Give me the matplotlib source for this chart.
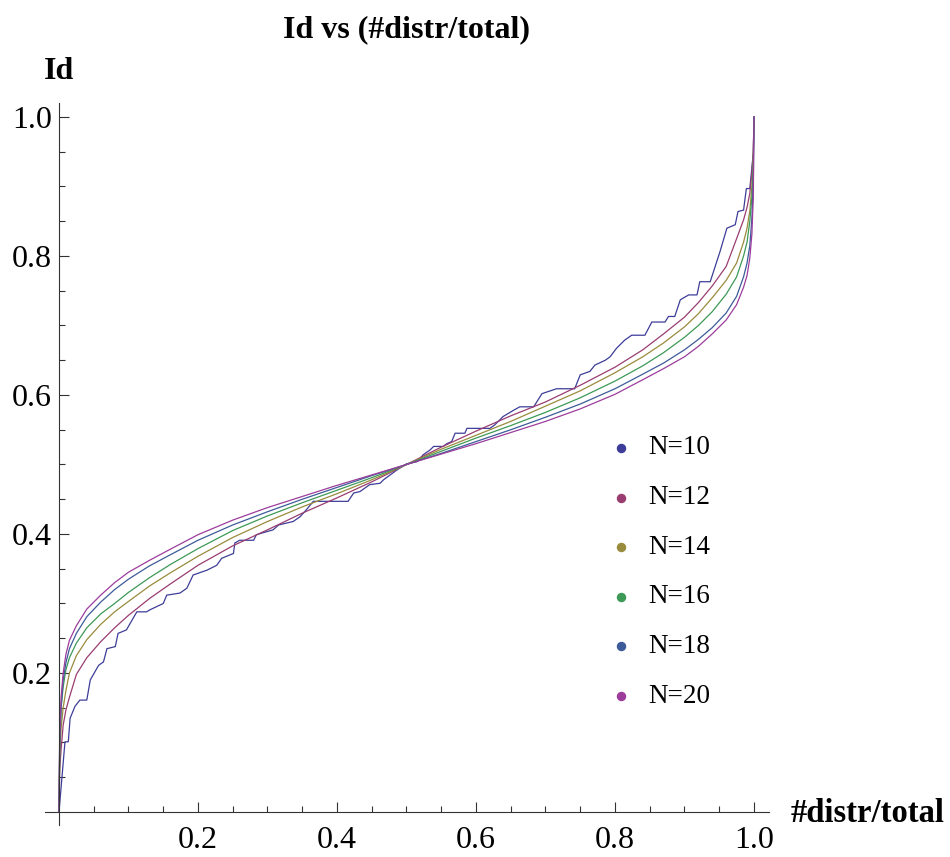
import matplotlib
matplotlib.use("Agg")
import matplotlib.pyplot as plt
from matplotlib.ticker import FixedLocator

# ---------------- data ----------------
labels = ["N=10", "N=12", "N=14", "N=16", "N=18", "N=20"]
colors = ["#3d3d99", "#993d71", "#998b3d", "#3d9956", "#3d5b99", "#9c3d9c"]

# N=10 : staircase corners
x10 = [0, 0.0086, 0.0134, 0.016, 0.023, 0.030, 0.040, 0.045, 0.057, 0.064,
       0.069, 0.081, 0.085, 0.097, 0.112, 0.126, 0.131, 0.150, 0.155, 0.174,
       0.184, 0.193, 0.213, 0.227, 0.234, 0.251, 0.253, 0.260, 0.280, 0.284,
       0.308, 0.316, 0.337, 0.347, 0.356, 0.366, 0.416, 0.424, 0.433, 0.447,
       0.462, 0.467, 0.486, 0.500, 0.515, 0.524, 0.534, 0.539, 0.553, 0.558,
       0.565, 0.570, 0.584, 0.587, 0.620, 0.627, 0.639, 0.654, 0.663, 0.683,
       0.695, 0.716, 0.742, 0.750, 0.764, 0.771, 0.786, 0.793, 0.802, 0.814,
       0.824, 0.843, 0.853, 0.872, 0.877, 0.886, 0.894, 0.906, 0.918, 0.922,
       0.937, 0.951, 0.961, 0.973, 0.977, 0.985, 0.989, 0.994, 0.999, 1.0]
y10 = [0, 0.101, 0.101, 0.135, 0.152, 0.161, 0.161, 0.190, 0.211, 0.216,
       0.235, 0.238, 0.257, 0.262, 0.288, 0.288, 0.291, 0.300, 0.312, 0.315,
       0.322, 0.341, 0.348, 0.355, 0.365, 0.372, 0.387, 0.391, 0.391, 0.399,
       0.406, 0.413, 0.418, 0.425, 0.435, 0.447, 0.447, 0.459, 0.461, 0.471,
       0.473, 0.478, 0.492, 0.501, 0.504, 0.514, 0.521, 0.526, 0.526, 0.530,
       0.533, 0.545, 0.545, 0.552, 0.552, 0.557, 0.569, 0.578, 0.583, 0.583,
       0.602, 0.609, 0.609, 0.629, 0.634, 0.643, 0.650, 0.655, 0.667, 0.679,
       0.686, 0.686, 0.705, 0.705, 0.713, 0.713, 0.737, 0.744, 0.744, 0.763,
       0.763, 0.806, 0.840, 0.845, 0.864, 0.866, 0.897, 0.897, 0.948, 1.0]

# common sample positions for the smoother curves
xs = [0, 0.001, 0.003, 0.006, 0.01, 0.015, 0.025, 0.04, 0.06, 0.08, 0.1,
      0.13, 0.16, 0.2, 0.25, 0.3, 0.35, 0.4, 0.45, 0.5, 0.55, 0.6, 0.65,
      0.7, 0.75, 0.8, 0.84, 0.87, 0.9, 0.92, 0.94, 0.96, 0.975, 0.985,
      0.99, 0.994, 0.997, 0.999, 1.0]

y12 = [0, 0.06, 0.09, 0.125, 0.147, 0.165, 0.198, 0.222, 0.245, 0.265, 0.283,
       0.307, 0.328, 0.355, 0.383, 0.406, 0.430, 0.452, 0.475, 0.5, 0.525,
       0.548, 0.570, 0.590, 0.614, 0.640, 0.665, 0.688, 0.712, 0.733, 0.757,
       0.785, 0.825, 0.852, 0.870, 0.890, 0.920, 0.950, 1.0]
y14 = [0, 0.08, 0.12, 0.15, 0.175, 0.20, 0.225, 0.248, 0.270, 0.288, 0.303,
       0.325, 0.344, 0.368, 0.395, 0.418, 0.439, 0.458, 0.478, 0.5, 0.522,
       0.542, 0.562, 0.584, 0.606, 0.632, 0.655, 0.675, 0.698, 0.717, 0.740,
       0.765, 0.790, 0.820, 0.840, 0.865, 0.900, 0.940, 1.0]
y16 = [0, 0.09, 0.15, 0.18, 0.205, 0.222, 0.243, 0.265, 0.285, 0.300, 0.316,
       0.337, 0.356, 0.379, 0.405, 0.426, 0.445, 0.463, 0.481, 0.5, 0.519,
       0.538, 0.556, 0.575, 0.596, 0.620, 0.642, 0.661, 0.683, 0.700, 0.720,
       0.745, 0.770, 0.800, 0.820, 0.850, 0.885, 0.930, 1.0]
y18 = [0, 0.10, 0.15, 0.19, 0.215, 0.235, 0.257, 0.281, 0.302, 0.320, 0.335,
       0.354, 0.370, 0.391, 0.413, 0.432, 0.450, 0.467, 0.484, 0.5, 0.516,
       0.533, 0.550, 0.568, 0.587, 0.609, 0.630, 0.646, 0.665, 0.680, 0.697,
       0.718, 0.742, 0.770, 0.790, 0.815, 0.855, 0.905, 1.0]
y20 = [0, 0.11, 0.165, 0.20, 0.227, 0.247, 0.268, 0.292, 0.312, 0.330, 0.345,
       0.362, 0.378, 0.399, 0.420, 0.438, 0.454, 0.470, 0.485, 0.5, 0.515,
       0.530, 0.546, 0.562, 0.580, 0.601, 0.622, 0.638, 0.655, 0.670, 0.688,
       0.708, 0.730, 0.755, 0.772, 0.797, 0.832, 0.885, 1.0]

series_x = [x10, xs, xs, xs, xs, xs]
series_y = [y10, y12, y14, y16, y18, y20]

major_ticks = [0.2, 0.4, 0.6, 0.8, 1.0]
minor_ticks = [0.05, 0.1, 0.15, 0.25, 0.3, 0.35, 0.45, 0.5, 0.55,
               0.65, 0.7, 0.75, 0.85, 0.9, 0.95]
tick_labels = ["0.2", "0.4", "0.6", "0.8", "1.0"]

# ---------------- figure ----------------
SERIF = ["Liberation Serif", "DejaVu Serif"]
plt.rcParams["font.family"] = SERIF

fig = plt.figure(figsize=(9.5, 8.57), dpi=100)
ax = fig.add_axes([0.04747, 0.0371, 0.7623, 0.8426])

for sx, sy, c in zip(series_x, series_y, colors):
    ax.plot(sx, sy, color=c, lw=0.9, solid_joinstyle="miter")

ax.set_xlim(-0.02, 1.022)
ax.set_ylim(-0.019, 1.02)

for s in ["top", "right"]:
    ax.spines[s].set_visible(False)
ax.spines["left"].set_position(("data", 0))
ax.spines["bottom"].set_position(("data", 0))
for s in ["left", "bottom"]:
    ax.spines[s].set_color("#333333")
    ax.spines[s].set_linewidth(0.8)

ax.xaxis.set_major_locator(FixedLocator(major_ticks))
ax.yaxis.set_major_locator(FixedLocator(major_ticks))
ax.xaxis.set_minor_locator(FixedLocator(minor_ticks))
ax.yaxis.set_minor_locator(FixedLocator(minor_ticks))
ax.set_xticklabels(tick_labels)
ax.set_yticklabels(tick_labels)

ax.tick_params(axis="both", which="major", direction="in", length=7.5,
               width=0.8, color="#333333", labelsize=23)
ax.tick_params(axis="both", which="minor", direction="in", length=4.3,
               width=0.8, color="#333333")
ax.tick_params(axis="x", which="major", pad=10)
ax.tick_params(axis="y", which="major", pad=5)

# axis labels
ax.text(0.0, 1.065, "Id", fontsize=23, fontweight="bold",
        ha="center", va="center", transform=ax.transData)
ax.text(1.052, -0.002, "#distr/total", fontsize=23.5, fontweight="bold",
        ha="left", va="center", transform=ax.transData, clip_on=False)

fig.text(406.5 / 950, 1 - 30 / 857, "Id vs (#distr/total)", fontsize=23,
         fontweight="bold", ha="center", va="center")

# legend (dots + labels)
for i, (lab, c) in enumerate(zip(labels, colors)):
    yy = 0.5224 - i * 0.0687
    ax.plot([0.795], [yy], marker="o", ms=5.8, color=c, ls="none",
            transform=ax.transAxes, clip_on=False)
    ax.text(0.8326, yy, lab, fontsize=19.5, ha="left", va="center",
            transform=ax.transAxes)

fig.savefig("out.png", dpi=100)
